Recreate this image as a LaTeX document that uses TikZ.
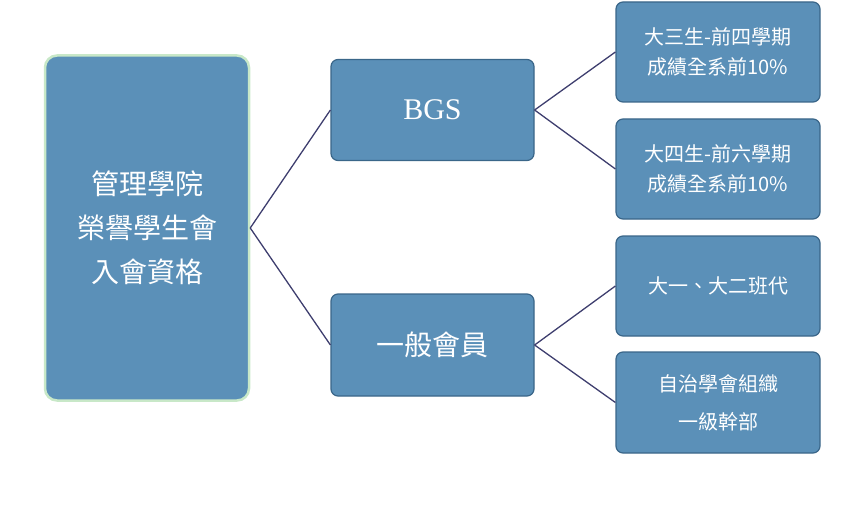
\documentclass[tikz,border=0pt]{standalone}
\usepackage{fontspec}
\setmainfont{Liberation Serif}
\newfontfamily\cjk{Noto Sans CJK TC}
\definecolor{boxfill}{HTML}{5B90B8}
\definecolor{boxline}{HTML}{3A6689}
\definecolor{rootline}{HTML}{C8E8C8}
\definecolor{conn}{HTML}{3E3E6E}
\tikzset{x=1pt,y=-1pt,
 box/.style={draw=boxline,line width=1.2pt,fill=boxfill,rounded corners=7pt,text=white,align=center,inner sep=0pt},
 conline/.style={draw=conn,line width=1.3pt}}
\begin{document}
\begin{tikzpicture}
\useasboundingbox (0,0) rectangle (864,516);
\node[box,draw=rootline,line width=2.5pt,rounded corners=12pt,minimum width=204pt,minimum height=345pt,font=\cjk\fontsize{28}{44}\selectfont] (root) at (147,228) {管理學院\\榮譽學生會\\入會資格};
\node[box,minimum width=203pt,minimum height=101pt,font=\fontsize{30}{36}\selectfont] (bgs) at (432.5,110) {BGS};
\node[box,minimum width=203pt,minimum height=102pt,font=\cjk\fontsize{28}{36}\selectfont] (gen) at (432.5,345) {一般會員};
\node[box,minimum width=204pt,minimum height=100pt,font=\cjk\fontsize{20}{30}\selectfont] (r1) at (718,52) {大三生-前四學期\\成績全系前10\%};
\node[box,minimum width=204pt,minimum height=100pt,font=\cjk\fontsize{20}{30}\selectfont] (r2) at (718,169) {大四生-前六學期\\成績全系前10\%};
\node[box,minimum width=204pt,minimum height=100pt,font=\cjk\fontsize{20}{30}\selectfont] (r3) at (718,286) {大一、大二班代};
\node[box,minimum width=204pt,minimum height=101pt,font=\cjk\fontsize{20}{38}\selectfont] (r4) at (718,402.5) {自治學會組織\\一級幹部};
\draw[conline] (root.east) -- (bgs.west);
\draw[conline] (root.east) -- (gen.west);
\draw[conline] (bgs.east) -- (r1.west);
\draw[conline] (bgs.east) -- (r2.west);
\draw[conline] (gen.east) -- (r3.west);
\draw[conline] (gen.east) -- (r4.west);
\end{tikzpicture}
\end{document}
